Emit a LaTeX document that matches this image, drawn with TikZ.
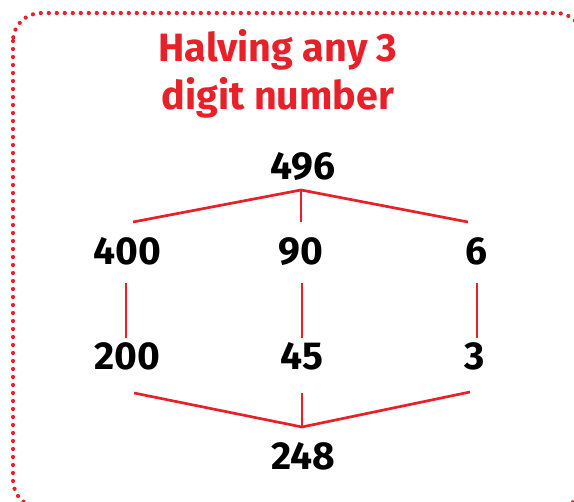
\documentclass[tikz,border=0pt]{standalone}
\usepackage{fontspec}
\setmainfont{Fira Sans}
\newfontfamily\titlefont{Fira Sans Bold}
\newfontfamily\digitfont{Fira Sans Bold}
\definecolor{halfred}{HTML}{E8202A}
\tikzset{
    heading/.style={text=halfred, font=\titlefont\fontsize{39.5}{46}\selectfont, anchor=base, inner sep=0pt},
    num/.style={font=\digitfont\fontsize{39}{40}\selectfont, anchor=base, inner sep=0pt},
    link/.style={draw=halfred, line width=2.7pt},
}
\begin{document}
\begin{tikzpicture}[x=1pt,y=-1pt]
    \useasboundingbox (0,0) rectangle (574,502);
    \clip (0,0) rectangle (574,502);
    \draw[halfred, line width=4.2pt, line cap=round, dash pattern=on 0pt off 8pt, rounded corners=28pt] (13,13) rectangle (584,508);

    \node[heading] (title1) at (278,62) {Halving any 3};
    \node[heading] (title2) at (278,110) {digit number};

    \node[num] (n496) at (303,180) {496};
    \node[num] (n400) at (127,265) {400};
    \node[num] (n90) at (301,265) {90};
    \node[num] (n6) at (476,265) {6};
    \node[num] (n200) at (127,370) {200};
    \node[num] (n45) at (302,370) {45};
    \node[num] (n3) at (475,370) {3};
    \node[num] (n248) at (303,470) {248};

    \coordinate (split) at (301,190);
    \coordinate (join) at (302,427);
    \coordinate (a400) at (133,222);
    \coordinate (a90) at (301,222);
    \coordinate (a6) at (468,222);
    \coordinate (b400) at (126,283);
    \coordinate (b90) at (302,283);
    \coordinate (b6) at (477,283);
    \coordinate (c200) at (126,338);
    \coordinate (c45) at (302,338);
    \coordinate (c3) at (477,338);
    \coordinate (d200) at (134,393);
    \coordinate (d45) at (302,393);
    \coordinate (d3) at (470,392);

    \draw[link] (a400) -- (split) -- (a6);
    \draw[link] (split) -- (a90);
    \draw[link] (b400) -- (c200);
    \draw[link] (b90) -- (c45);
    \draw[link] (b6) -- (c3);
    \draw[link] (d200) -- (join) -- (d3);
    \draw[link] (d45) -- (join);
\end{tikzpicture}
\end{document}
